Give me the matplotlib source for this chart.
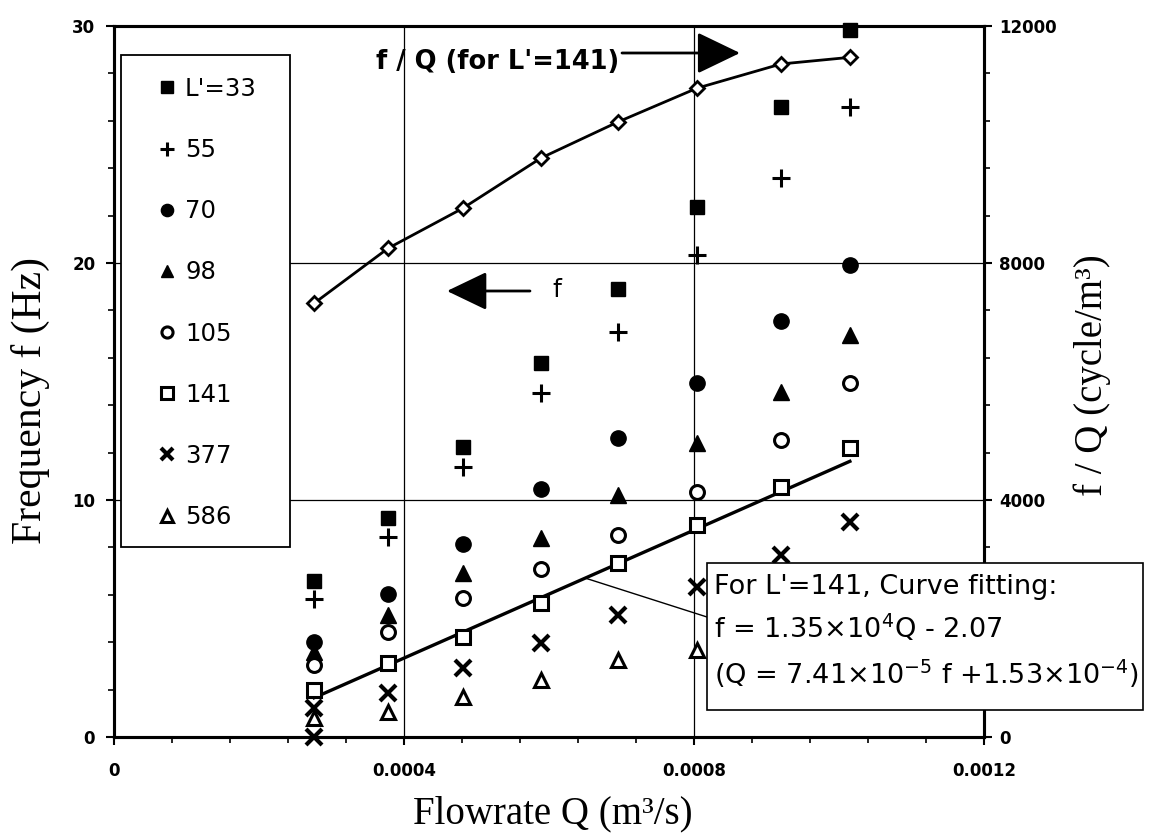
import matplotlib
matplotlib.use("Agg")
import matplotlib.pyplot as plt
from matplotlib.patches import Rectangle
from matplotlib.ticker import MultipleLocator, FuncFormatter
import numpy as np

# ---------------- data ----------------
q = [0.000276, 0.000378, 0.000481, 0.000589, 0.000695, 0.000804, 0.000920, 0.001015]
f33 = [6.60, 9.23, 12.22, 15.80, 18.90, 22.35, 26.57, 29.83]
f55 = [5.81, 8.45, 11.40, 14.50, 17.10, 20.34, 23.57, 26.57]
f70 = [4.02, 6.02, 8.13, 10.47, 12.60, 14.92, 17.57, 19.92]
f98 = [3.60, 5.15, 6.91, 8.38, 10.20, 12.39, 14.57, 16.96]
f105 = [3.04, 4.44, 5.85, 7.10, 8.52, 10.35, 12.53, 14.95]
f141 = [1.98, 3.11, 4.23, 5.65, 7.33, 8.95, 10.56, 12.18]
q377 = [0.000276, 0.000276, 0.000378, 0.000481, 0.000589, 0.000695, 0.000804, 0.000920, 0.001015]
f377 = [0.00, 1.21, 1.84, 2.90, 3.95, 5.15, 6.34, 7.68, 9.08]
q586 = [0.000276, 0.000378, 0.000481, 0.000589, 0.000695, 0.000804]
f586 = [0.79, 1.07, 1.70, 2.41, 3.25, 3.67]
fq141 = [7320, 8248, 8923, 9772, 10380, 10950, 11359, 11471]
fit_coef = [1.35e4, -2.07]
leader_q = 0.00065
legend_labels = ["L'=33", "55", "70", "98", "105", "141", "377", "586"]

W, H = 1152, 836
fig = plt.figure(figsize=(W / 100, H / 100), dpi=100)
ax = fig.add_axes([114 / W, 1 - 737 / H, 870 / W, 711 / H])

ax.set_xlim(0, 0.0012)
ax.set_ylim(0, 30)
ax.xaxis.set_major_locator(MultipleLocator(0.0004))
ax.xaxis.set_minor_locator(MultipleLocator(0.00008))
ax.yaxis.set_major_locator(MultipleLocator(10))
ax.yaxis.set_minor_locator(MultipleLocator(2))
ax.xaxis.set_major_formatter(FuncFormatter(lambda v, p: "%g" % round(v, 6)))
ax.grid(True, which="major", color="black", lw=0.9)

for s in ax.spines.values():
    s.set_linewidth(2.2)
ax.tick_params(which="major", direction="out", length=6, width=1.5, labelsize=12)
ax.tick_params(which="minor", direction="out", length=4, width=1.2)
ax.tick_params(axis="y", which="major", pad=7.5)
ax.tick_params(axis="x", which="major", pad=12)
for lab in ax.get_xticklabels() + ax.get_yticklabels():
    lab.set_fontweight("bold")

common = dict(linestyle="none", color="black", clip_on=False, zorder=6)
h = []
h += ax.plot(q, f33, marker="s", ms=10, **common)
h += ax.plot(q, f55, marker="+", ms=13, mew=2.2, **common)
h += ax.plot(q, f70, marker="o", ms=11, **common)
h += ax.plot(q, f98, marker="^", ms=11, **common)
h += ax.plot(q, f105, marker="o", ms=10, mfc="white", mew=2.2, **common)
h += ax.plot(q, f141, marker="s", ms=10, mfc="white", mew=2.2, **common)
h += ax.plot(q377, f377, marker="x", ms=11, mew=3, **common)
h += ax.plot(q586, f586, marker="^", ms=10, mfc="white", mew=2.2, **common)

# fitted line for L'=141
qfit = np.array([q[0], q[-1]])
ax.plot(qfit, fit_coef[0] * qfit + fit_coef[1], color="black", lw=2.4, zorder=5)

# legend with frame
ax.add_patch(Rectangle((121 / W, 1 - 547 / H), 169 / W, 492 / H, transform=fig.transFigure,
                       facecolor="white", edgecolor="black", lw=1.3, zorder=3, clip_on=False))
leg = ax.legend(h, legend_labels, loc="upper left", bbox_to_anchor=(157 / W, 1 - 77 / H),
                bbox_transform=fig.transFigure, frameon=False, borderpad=0, borderaxespad=0,
                handlelength=0.8, handletextpad=0.35, labelspacing=1.52, fontsize=17.6,
                markerscale=0.8)
leg.set_zorder(7)

# right axis: f/Q
ax2 = ax.twinx()
ax2.set_ylim(0, 12000)
ax2.yaxis.set_major_locator(MultipleLocator(4000))
ax2.yaxis.set_minor_locator(MultipleLocator(800))
for s in ax2.spines.values():
    s.set_linewidth(2.2)
ax2.tick_params(which="major", direction="out", length=6, width=1.5, labelsize=12, pad=5)
ax2.tick_params(which="minor", direction="out", length=4, width=1.2)
for lab in ax2.get_yticklabels():
    lab.set_fontweight("bold")
ax2.plot(q, fq141, color="black", lw=2, marker="D", ms=7, mfc="white", mec="black",
         mew=2, clip_on=False, zorder=5)

# annotation box with leader line
ax2.add_patch(Rectangle((707 / W, 1 - 710 / H), 436 / W, 147 / H, transform=fig.transFigure,
                        facecolor="white", edgecolor="black", lw=1.2, zorder=19, clip_on=False))
ax2.annotate("", xy=(leader_q, fit_coef[0] * leader_q + fit_coef[1]), xycoords=ax.transData,
             xytext=(707, H - 617), textcoords="figure pixels",
             arrowprops=dict(arrowstyle="-", lw=1.0, color="black", shrinkA=0, shrinkB=0),
             zorder=18, annotation_clip=False)
box_text = ("For L'=141, Curve fitting:\n"
            "f = 1.35×10$^{4}$Q - 2.07\n"
            "(Q = 7.41×10$^{-5}$ f +1.53×10$^{-4}$)")
ax2.annotate(box_text, xy=(714, H - 574), xycoords="figure pixels", ha="left", va="top",
             fontsize=19.5, linespacing=1.5, math_fontfamily="dejavusans",
             zorder=20, annotation_clip=False)

# arrows and labels
ax2.annotate("", xy=(740, H - 53), xytext=(622, H - 53), xycoords="figure pixels",
             arrowprops=dict(arrowstyle="-|>,head_length=1.35,head_width=0.65", lw=2,
                             color="black", mutation_scale=20, shrinkA=0, shrinkB=0),
             zorder=20, annotation_clip=False)
ax2.annotate("", xy=(447, H - 291), xytext=(530, H - 291), xycoords="figure pixels",
             arrowprops=dict(arrowstyle="-|>,head_length=1.25,head_width=0.6", lw=2,
                             color="black", mutation_scale=20, shrinkA=0, shrinkB=0),
             zorder=20, annotation_clip=False)
fig.text(498 / W, 1 - 62 / H, "f / Q (for L'=141)", ha="center", va="center",
         fontsize=18.5, fontweight="bold")
fig.text(557 / W, 1 - 290 / H, "f", ha="center", va="center", fontsize=18)

serif = "Liberation Serif"
fig.text(30 / W, 1 - 400 / H, "Frequency f (Hz)", rotation=90, ha="center", va="center",
         family=serif, fontsize=30)
fig.text(1092 / W, 1 - 375 / H, "f / Q (cycle/m³)", rotation=90, ha="center", va="center",
         family=serif, fontsize=28)
fig.text(553 / W, 1 - 814 / H, "Flowrate Q (m³/s)", ha="center", va="center",
         family=serif, fontsize=28)

fig.savefig("out.png", dpi=100)
